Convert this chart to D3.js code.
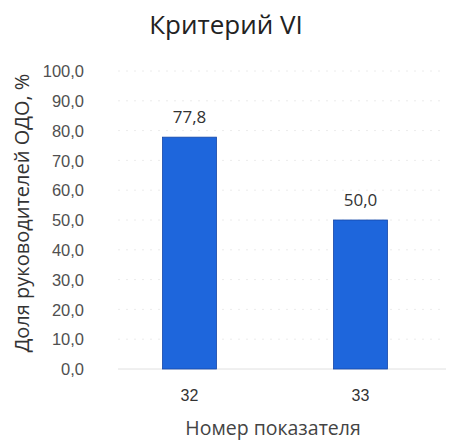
<!DOCTYPE html>
<html><head><meta charset="utf-8">
<script src="https://cdn.jsdelivr.net/npm/d3@7"></script>
<style>body{margin:0;background:#fff}svg{font-family:"Open Sans",sans-serif}</style>
</head><body><svg id="c" width="467" height="443"></svg>
<script>
const categories = ["32", "33"];
const values = [77.8, 50.0];
const yTicks = [0,10,20,30,40,50,60,70,80,90,100];
const title = "Критерий VI";
const xTitle = "Номер показателя";
const yTitle = "Доля руководителей ОДО, %";

const svg = d3.select("#c");
const fmt = v => d3.format(".1f")(v).replace(".", ",");
const x = d3.scaleBand().domain(categories).range([104, 446]).paddingInner(0.684).paddingOuter(0.342);
const y = d3.scaleLinear().domain([0,100]).range([369, 71]);

svg.append("g").selectAll("line").data(yTicks.slice(1)).join("line")
  .attr("x1", 118).attr("x2", 446).attr("y1", d=>y(d)).attr("y2", d=>y(d))
  .attr("stroke", "#ececec").attr("stroke-width", 1).attr("stroke-dasharray", "2,6");

const yAxis = svg.append("g").attr("transform","translate(104,0)")
  .call(d3.axisLeft(y).tickValues(yTicks).tickFormat(fmt).tickSize(0).tickPadding(20));
yAxis.select(".domain").remove();
yAxis.selectAll("text").attr("font-size", 16.5).attr("fill", "#505050").attr("dy","0.35em").attr("font-family","inherit");

svg.append("line").attr("x1",118).attr("x2",446).attr("y1",y(0)).attr("y2",y(0)).attr("stroke","#e0e0e0");

svg.append("g").selectAll("rect").data(values).join("rect")
  .attr("x",(d,i)=>x(categories[i])).attr("width",x.bandwidth())
  .attr("y",d=>y(d)).attr("height",d=>y(0)-y(d))
  .attr("fill","#1e66dc").attr("stroke","#1648a8").attr("stroke-width",0.8);

svg.append("g").selectAll("text").data(values).join("text")
  .attr("x",(d,i)=>x(categories[i])+x.bandwidth()/2).attr("y",d=>y(d)-14)
  .attr("text-anchor","middle").attr("font-size",17).attr("fill","#333").text(fmt);

const xAxis = svg.append("g").attr("transform",`translate(0,${y(0)})`)
  .call(d3.axisBottom(x).tickSize(0).tickPadding(21));
xAxis.select(".domain").remove();
xAxis.selectAll("text").attr("font-size",16).attr("fill","#333").attr("font-family","inherit");

svg.append("text").attr("x",226).attr("y",34).attr("text-anchor","middle")
  .attr("font-size",26).attr("fill","#222").text(title);
svg.append("text").attr("x",273).attr("y",435).attr("text-anchor","middle")
  .attr("font-size",19.5).attr("fill","#444").text(xTitle);
svg.append("text").attr("transform","translate(29,213) rotate(-90)").attr("text-anchor","middle")
  .attr("font-size",20).attr("fill","#333").text(yTitle);
</script></body></html>
